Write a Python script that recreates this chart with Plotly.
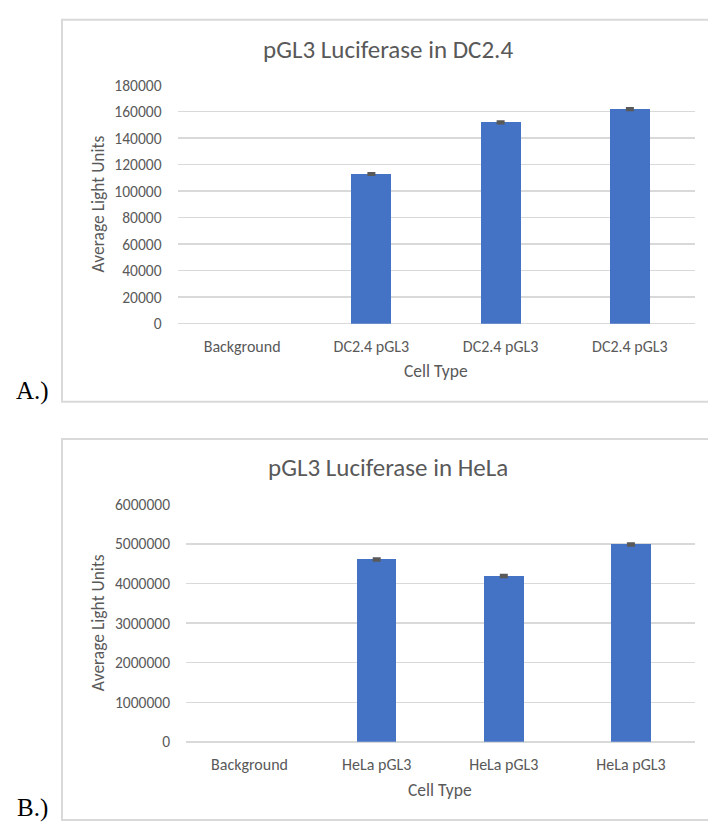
import plotly.graph_objects as go

W, H = 708, 830

categories_a = ["Background", "DC2.4 pGL3", "DC2.4 pGL3", "DC2.4 pGL3"]
values_a = [0, 113000, 152000, 162000]
errors_a = [0, 600, 700, 700]
yticks_a = [0, 20000, 40000, 60000, 80000, 100000, 120000, 140000, 160000, 180000]

categories_b = ["Background", "HeLa pGL3", "HeLa pGL3", "HeLa pGL3"]
values_b = [0, 4610000, 4190000, 4990000]
errors_b = [0, 25000, 25000, 25000]
yticks_b = [0, 1000000, 2000000, 3000000, 4000000, 5000000, 6000000]

title_a = "pGL3 Luciferase in DC2.4"
title_b = "pGL3 Luciferase in HeLa"
ytitle = "Average Light Units"
xtitle = "Cell Type"

BAR = "#4472C4"
TXT = "#595959"
GRID = "#D9D9D9"
FONT = "Carlito, Lato, sans-serif"


def px(x):
    return x / W


def py(y):
    return 1 - y / H


fig = go.Figure()


def add_bars(cats, vals, errs, xa, ya):
    idx = list(range(len(cats)))
    fig.add_trace(go.Bar(
        x=idx, y=vals, width=0.31,
        marker=dict(color=BAR, line=dict(width=0)),
        xaxis=xa, yaxis=ya, showlegend=False, hoverinfo="skip"))
    # error bars only where a bar is drawn
    keep = [i for i, v in enumerate(vals) if v > 0]
    fig.add_trace(go.Scatter(
        x=[idx[i] for i in keep], y=[vals[i] for i in keep], mode="markers",
        marker=dict(size=1, opacity=0),
        error_y=dict(type="data", array=[errs[i] for i in keep], color=TXT,
                     thickness=2.5, width=4),
        xaxis=xa, yaxis=ya, showlegend=False, hoverinfo="skip"))


add_bars(categories_a, values_a, errors_a, "x", "y")
add_bars(categories_b, values_b, errors_b, "x2", "y2")

common_x = dict(range=[-0.5, 3.5], showgrid=False, zeroline=False, showline=False,
                ticks="", tickfont=dict(family=FONT, size=16, color=TXT),
                ticklabelstandoff=11, fixedrange=True)
common_y = dict(showgrid=True, gridcolor=GRID, gridwidth=1.5, zeroline=True,
                zerolinecolor=GRID, zerolinewidth=1.5, showline=False, ticks="",
                tickfont=dict(family=FONT, size=15.5, color=TXT),
                ticklabelstandoff=15, fixedrange=True, tickformat="d")

fig.update_layout(
    width=W, height=H, autosize=False, margin=dict(l=0, r=0, t=0, b=0, pad=0),
    paper_bgcolor="white", plot_bgcolor="white", bargap=0,
    xaxis=dict(domain=[px(177.5), px(694.5)], anchor="y",
               tickvals=list(range(4)), ticktext=categories_a, **common_x),
    yaxis=dict(domain=[py(321), py(77)], anchor="x", range=[0, 180000],
               tickvals=yticks_a, **common_y),
    xaxis2=dict(domain=[px(186), px(694.5)], anchor="y2",
                tickvals=list(range(4)), ticktext=categories_b, **common_x),
    yaxis2=dict(domain=[py(749), py(506)], anchor="x2", range=[0, 6000000],
                tickvals=yticks_b, **common_y),
)

shapes = [
    dict(type="rect", xref="paper", yref="paper", x0=px(62), x1=px(730),
         y0=py(401), y1=py(10), line=dict(color=GRID, width=2)),
    dict(type="rect", xref="paper", yref="paper", x0=px(62), x1=px(730),
         y0=py(829), y1=py(439), line=dict(color=GRID, width=2)),
]
fig.update_layout(shapes=shapes)

ann = []


def add_text(text, x, y, size, angle=0, family=FONT, color=TXT):
    ann.append(dict(text=text, x=px(x), y=py(y), xref="paper", yref="paper",
                    xanchor="center", yanchor="middle", showarrow=False,
                    textangle=angle, font=dict(family=family, size=size, color=color)))


add_text(title_a, 388, 40, 25)
add_text(title_b, 388, 468, 25)
add_text(ytitle, 98, 199, 17.5, angle=-90)
add_text(ytitle, 98, 627.5, 17.5, angle=-90)
add_text(xtitle, 436, 369, 17.5)
add_text(xtitle, 440, 798, 17.5)
add_text("A.)", 32, 390, 25, family="Liberation Serif, Times New Roman, serif", color="black")
add_text("B.)", 32, 817, 25, family="Liberation Serif, Times New Roman, serif", color="black")
fig.update_layout(annotations=ann)

css = (
    "var s=document.createElement('style');"
    "s.textContent='html,body{margin:0!important;padding:0!important;overflow:hidden;"
    "width:708px;height:830px;}';"
    "document.head.appendChild(s);"
)

fig.write_html(
    "out.html",
    config={"displayModeBar": False, "staticPlot": True},
    post_script=css,
)
